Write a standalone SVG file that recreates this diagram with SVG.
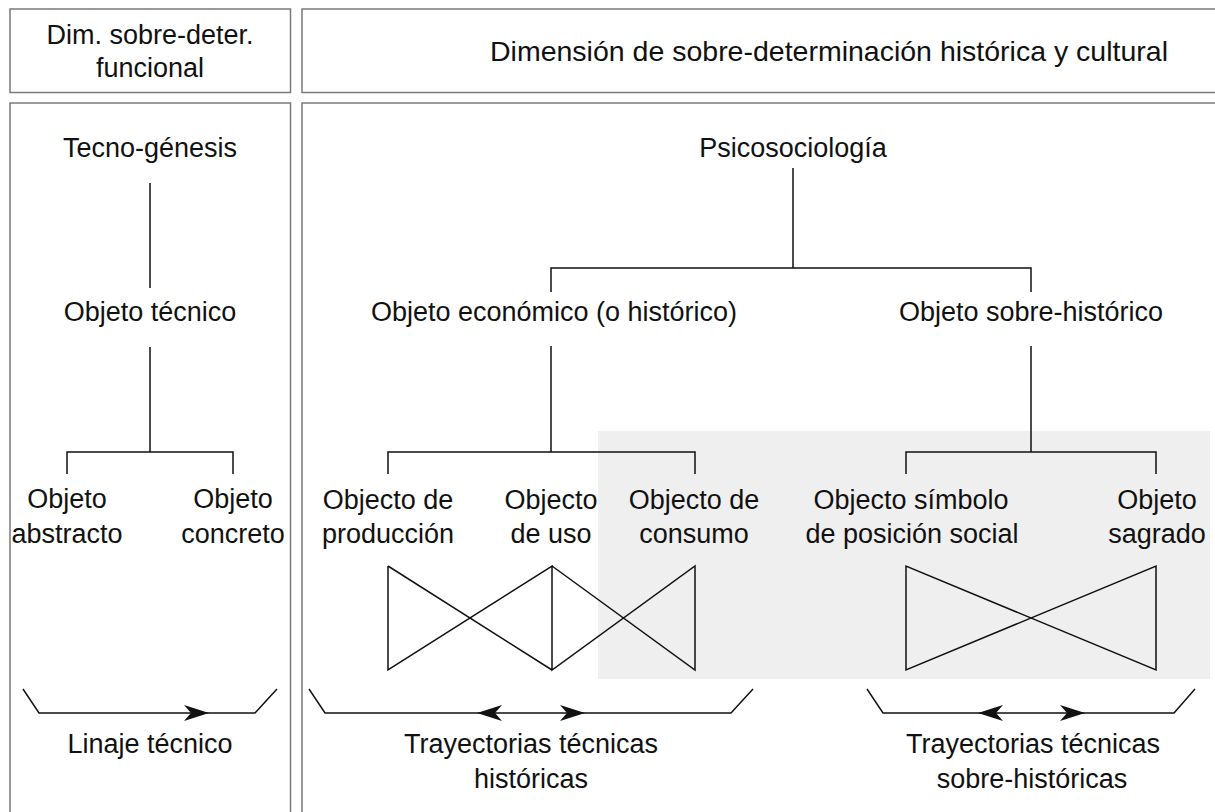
<svg xmlns="http://www.w3.org/2000/svg" width="1215" height="812" viewBox="0 0 1215 812">
<style>
text{font-family:"Liberation Sans",Arial,sans-serif;font-size:27px;fill:#111;text-anchor:middle}
.box{fill:#fff;stroke:#7a7a7a;stroke-width:1.5}
.ln{fill:none;stroke:#111;stroke-width:1.5}
.ah{fill:#111;stroke:none}
</style>
<defs>
<path id="arR" d="M0,0 L-25,-8 L-18,0 L-25,8 Z"/>
<path id="arL" d="M0,0 L25,-8 L18,0 L25,8 Z"/>
</defs>
<rect width="1215" height="812" fill="#fff"/>
<g id="panels">
<rect class="box" x="10" y="9" width="280.5" height="83.5"/>
<rect class="box" x="302" y="9" width="930" height="83.5"/>
<rect class="box" x="10" y="103" width="280.5" height="730"/>
<rect class="box" x="302" y="103" width="930" height="730"/>
<rect x="598" y="431" width="612" height="248" fill="#efefef"/>
</g>
<g id="connectors">
<path class="ln" d="M150,183 V288 M150,347 V452 M67,474 V452 H233 V474"/>
<path class="ln" d="M793,168 V268 M551,292 V268 H1031 V292"/>
<path class="ln" d="M551,346 V452 M388,474 V452 H695 V474 M1031,346 V452 M906,474 V452 H1156 V474"/>
<path class="ln" d="M388,566 V670 L552,566 V670 L695,566 V670 L552,566 M552,670 L388,566"/>
<path class="ln" d="M906,566 V670 L1156,566 V670 Z"/>
<path class="ln" d="M23,689 L39,713 H255 L277,689"/>
<path class="ln" d="M309,689 L325,713 H731 L753,689"/>
<path class="ln" d="M867,689 L883,713 H1174 L1195,689"/>
<use href="#arR" class="ah" x="209" y="713"/>
<use href="#arL" class="ah" x="477" y="713"/>
<use href="#arR" class="ah" x="585" y="713"/>
<use href="#arL" class="ah" x="978" y="713"/>
<use href="#arR" class="ah" x="1085" y="713"/>
</g>
<g id="header-funcional"><text x="150" y="44">Dim. sobre-deter.</text><text x="150" y="77">funcional</text></g>
<g id="header-historica"><text x="829" y="61" style="font-size:28.5px">Dimensión de sobre-determinación histórica y cultural</text></g>
<g id="tecnogenesis"><text x="150" y="157">Tecno-génesis</text></g>
<g id="objeto-tecnico"><text x="150" y="321">Objeto técnico</text></g>
<g id="objeto-abstracto"><text x="67" y="508">Objeto</text><text x="67" y="543">abstracto</text></g>
<g id="objeto-concreto"><text x="233" y="508">Objeto</text><text x="233" y="543">concreto</text></g>
<g id="linaje"><text x="150" y="753">Linaje técnico</text></g>
<g id="psicosociologia"><text x="793" y="157">Psicosociología</text></g>
<g id="objeto-economico"><text x="554" y="321">Objeto económico (o histórico)</text></g>
<g id="objeto-sobrehistorico"><text x="1031" y="321">Objeto sobre-histórico</text></g>
<g id="produccion"><text x="388" y="509">Objecto de</text><text x="388" y="543">producción</text></g>
<g id="uso"><text x="551" y="509">Objecto</text><text x="551" y="543">de uso</text></g>
<g id="consumo"><text x="694" y="509">Objecto de</text><text x="694" y="543">consumo</text></g>
<g id="simbolo"><text x="911" y="509">Objecto símbolo</text><text x="912" y="543">de posición social</text></g>
<g id="sagrado"><text x="1157" y="509">Objeto</text><text x="1157" y="543">sagrado</text></g>
<g id="tray-historicas"><text x="531" y="753">Trayectorias técnicas</text><text x="531" y="788">históricas</text></g>
<g id="tray-sobrehistoricas"><text x="1033" y="753">Trayectorias técnicas</text><text x="1032" y="788">sobre-históricas</text></g>
</svg>
